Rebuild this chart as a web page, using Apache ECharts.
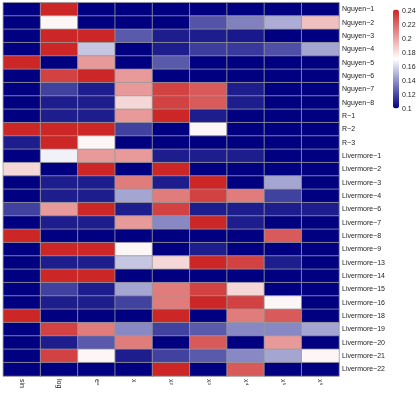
<!DOCTYPE html>
<html>
<head>
<meta charset="utf-8">
<script src="https://cdn.jsdelivr.net/npm/echarts@6/dist/echarts.min.js"></script>
<style>
html,body{margin:0;padding:0;background:#fff;}
#chart{width:419px;height:395px;}
</style>
</head>
<body>
<div id="chart"></div>
<script>
var columns = ['sin', 'log', 'eˣ', 'x', 'x²', 'x³', 'x⁴', 'x⁵', 'x⁶'];
var rows = ['Nguyen−1','Nguyen−2','Nguyen−3','Nguyen−4','Nguyen−5','Nguyen−6','Nguyen−7','Nguyen−8',
  'R−1','R−2','R−3',
  'Livermore−1','Livermore−2','Livermore−3','Livermore−4','Livermore−6','Livermore−7','Livermore−8',
  'Livermore−9','Livermore−13','Livermore−14','Livermore−15','Livermore−16','Livermore−18',
  'Livermore−19','Livermore−20','Livermore−21','Livermore−22'];

var sinVals  = [.1,.1,.1,.1,.242,.1,.1,.1,.1,.242,.108,.1,.184,.1,.1,.118,.1,.242,.1,.1,.1,.1,.1,.242,.1,.1,.1,.1];
var logVals  = [.242,.174,.242,.242,.1,.233,.118,.108,.108,.242,.242,.167,.1,.108,.108,.204,.108,.1,.242,.108,.242,.118,.108,.1,.233,.108,.233,.1];
var expVals  = [.1,.1,.242,.155,.204,.242,.108,.108,.108,.242,.174,.204,.242,.108,.108,.242,.108,.1,.242,.108,.242,.108,.108,.1,.214,.125,.174,.1];
var xVals    = [.1,.1,.125,.1,.1,.204,.204,.184,.204,.118,.1,.204,.1,.214,.146,.108,.204,.1,.174,.155,.1,.146,.118,.1,.138,.214,.108,.1];
var x2Vals   = [.1,.1,.108,.108,.125,.1,.233,.233,.242,.1,.1,.108,.242,.108,.214,.233,.138,.1,.1,.184,.1,.214,.214,.242,.118,.1,.118,.242];
var x3Vals   = [.1,.123,.108,.117,.1,.1,.225,.225,.108,.174,.1,.108,.1,.242,.233,.108,.242,.1,.108,.242,.1,.233,.242,.1,.125,.225,.125,.1];
var x4Vals   = [.1,.136,.107,.116,.1,.1,.108,.108,.1,.1,.1,.108,.1,.1,.214,.108,.108,.1,.1,.233,.1,.184,.233,.214,.138,.1,.138,.225];
var x5Vals   = [.1,.148,.1,.122,.1,.1,.1,.1,.1,.1,.1,.1,.1,.146,.118,.108,.1,.225,.1,.108,.1,.1,.174,.225,.138,.204,.146,.1];
var x6Vals   = [.1,.192,.1,.146,.1,.1,.1,.1,.1,.1,.1,.1,.1,.1,.1,.108,.1,.1,.1,.1,.1,.1,.1,.1,.146,.1,.174,.1];

var legendTicks = ['0.1', '0.12', '0.14', '0.16', '0.18', '0.2', '0.22', '0.24'];
var colorMin = 0.1, colorMax = 0.242;

var colVals = [sinVals, logVals, expVals, xVals, x2Vals, x3Vals, x4Vals, x5Vals, x6Vals];
var data = [];
colVals.forEach(function (arr, ci) {
  arr.forEach(function (v, ri) { data.push([ci, ri, v]); });
});

var FONT = '"Liberation Sans", Arial, sans-serif';
var chart = echarts.init(document.getElementById('chart'), null, {renderer: 'canvas'});
chart.setOption({
  animation: false,
  backgroundColor: '#fff',
  grid: [
    {left: 3.3, top: 2.7, width: 335.7, height: 373.3},
    {left: 393, top: 9.6, width: 6, height: 99}
  ],
  xAxis: [
    {type: 'category', data: columns, gridIndex: 0, position: 'bottom',
     axisLine: {show: false}, axisTick: {show: false}, splitLine: {show: false},
     axisLabel: {rotate: -90, fontSize: 7, color: '#222', fontFamily: FONT, margin: 3, interval: 0}},
    {type: 'value', gridIndex: 1, show: false, min: 0, max: 1}
  ],
  yAxis: [
    {type: 'category', data: rows, gridIndex: 0, inverse: true, position: 'right',
     axisLine: {show: false}, axisTick: {show: false}, splitLine: {show: false},
     axisLabel: {fontSize: 7, color: '#222', fontFamily: FONT, margin: 3, interval: 0}},
    {type: 'value', gridIndex: 1, position: 'right', min: colorMin, max: colorMax, interval: 0.02,
     axisLine: {show: false}, axisTick: {show: false}, splitLine: {show: false},
     axisLabel: {fontSize: 7, color: '#222', fontFamily: FONT, margin: 3,
       formatter: function (v) {
         var s = String(Math.round(v * 1000) / 1000);
         return legendTicks.indexOf(s) >= 0 ? s : '';
       }}}
  ],
  visualMap: {
    type: 'continuous', min: colorMin, max: colorMax, seriesIndex: 0,
    calculable: false, show: true, orient: 'vertical',
    left: 393, top: 9.6, itemWidth: 6, itemHeight: 99, padding: 0,
    text: null, showLabel: false,
    inRange: {color: ['#000080', '#FFFFFF', '#CD2626']}
  },
  series: [{
    type: 'heatmap', xAxisIndex: 0, yAxisIndex: 0, data: data,
    itemStyle: {borderColor: '#999', borderWidth: 0.8},
    emphasis: {disabled: true}
  }]
});
</script>
</body>
</html>
